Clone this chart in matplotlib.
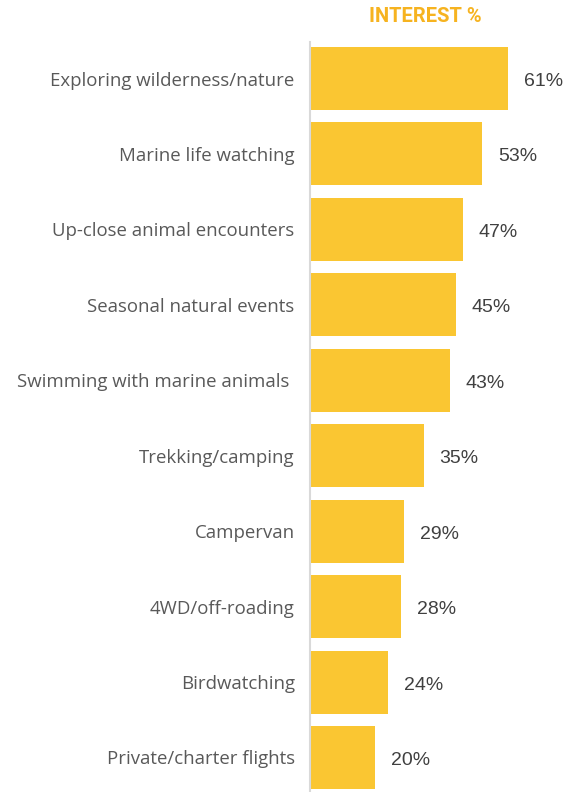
import matplotlib
matplotlib.use("Agg")
import matplotlib.pyplot as plt

categories = ["Exploring wilderness/nature", "Marine life watching", "Up-close animal encounters",
              "Seasonal natural events", "Swimming with marine animals ", "Trekking/camping",
              "Campervan", "4WD/off-roading", "Birdwatching", "Private/charter flights"]
values = [61, 53, 47, 45, 43, 35, 29, 28, 24, 20]

fig = plt.figure(figsize=(5.76, 7.92), dpi=100)
ax = fig.add_axes([310 / 576, 0, 260 / 576, 750 / 792])

ypos = list(range(len(values)))
ax.barh(ypos, values, height=0.835, color="#FAC632", zorder=2)

for y, v in zip(ypos, values):
    ax.text(v + 4.8, y + 0.04, f"{v}%", va="center", ha="left", fontsize=14,
            family="Liberation Sans", color="#404040")

ax.set_xlim(0, 80)
ax.set_ylim(9.458, -0.484)
ax.set_yticks(ypos)
ax.set_yticklabels(categories, fontsize=13.4, family="Open Sans", color="#595959")
ax.tick_params(axis="y", length=0, pad=11)
ax.set_xticks([])
for s in ["top", "right", "bottom"]:
    ax.spines[s].set_visible(False)
ax.spines["left"].set_color("#D9D9D9")
ax.spines["left"].set_linewidth(1.5)

fig.text(425 / 576, 1 - 16 / 792, "INTEREST %", ha="center", va="center", fontsize=14.5,
         fontweight="bold", family="Roboto", color="#F6B320")

fig.savefig("out.png", dpi=100)
